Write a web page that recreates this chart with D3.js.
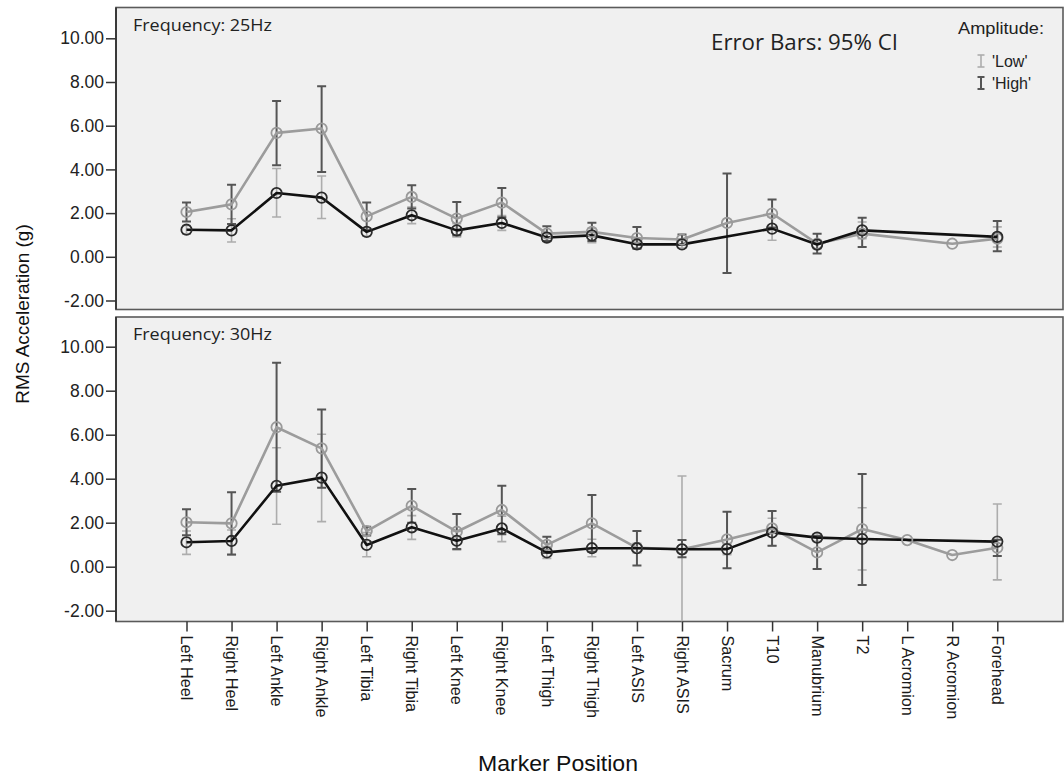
<!DOCTYPE html>
<html>
<head>
<meta charset="utf-8">
<script src="https://cdn.jsdelivr.net/npm/d3@7"></script>
<style>
  body { margin: 0; background: #fff; }
  svg { display: block; }
</style>
</head>
<body>
<svg id="chart" width="1064" height="780"></svg>
<script>
// Marker positions along the body
const categories = ["Left Heel", "Right Heel", "Left Ankle", "Right Ankle", "Left Tibia", "Right Tibia",
  "Left Knee", "Right Knee", "Left Thigh", "Right Thigh", "Left ASIS", "Right ASIS", "Sacrum", "T10",
  "Manubrium", "T2", "L Acromion", "R Acromion", "Forehead"];
const yTicks = [-2, 0, 2, 4, 6, 8, 10];
const frequencies = ["Frequency: 25Hz", "Frequency: 30Hz"];
const amplitudes = ["'Low'", "'High'"];

// 25 Hz, low amplitude: mean RMS acceleration and 95% CI
const low25Mean = [1.24, 1.21, 2.92, 2.71, 1.14, 1.90, 1.21, 1.55, 0.88, 0.98, 0.57, 0.57, null, 1.29, 0.56, 1.21, null, null, 0.91];
const low25Lo   = [1.05, 0.68, 1.82, 1.75, 0.95, 1.52, 0.91, 1.21, 0.70, 0.65, 0.40, 0.40, null, 0.76, 0.37, 0.83, null, null, 0.45];
const low25Hi   = [1.43, 1.74, 4.04, 3.70, 1.33, 2.28, 1.51, 1.89, 1.06, 1.31, 0.74, 0.74, null, 1.82, 0.75, 1.59, null, null, 1.37];
// 25 Hz, high amplitude
const high25Mean = [2.05, 2.40, 5.67, 5.87, 1.85, 2.74, 1.75, 2.48, 1.06, 1.14, 0.86, 0.79, 1.55, 1.98, 0.60, 1.06, null, 0.60, 0.83];
const high25Lo   = [1.62, 1.50, 4.19, 3.88, 1.22, 2.21, 0.99, 1.81, 0.72, 0.72, 0.37, 0.56, -0.74, 1.34, 0.15, 0.45, null, null, 0.25];
const high25Hi   = [2.48, 3.30, 7.13, 7.80, 2.48, 3.27, 2.51, 3.15, 1.40, 1.56, 1.36, 1.02, 3.81, 2.62, 1.06, 1.79, null, null, 1.64];

// 30 Hz, low amplitude
const low30Mean = [1.11, 1.17, 3.68, 4.05, 0.99, 1.79, 1.18, 1.74, 0.65, 0.84, 0.84, 0.79, 0.80, 1.56, 1.32, 1.26, null, null, 1.14];
const low30Lo   = [0.56, 0.53, 1.93, 2.05, 0.45, 1.24, 0.76, 1.14, 0.38, 0.45, 0.62, -2.55, 0.55, 0.95, 1.15, -0.15, null, null, -0.60];
const low30Hi   = [1.62, 1.67, 5.41, 6.02, 1.55, 2.32, 1.60, 2.30, 0.92, 1.25, 1.06, 4.12, 1.05, 2.20, 1.50, 2.68, null, null, 2.85];
// 30 Hz, high amplitude
const high30Mean = [2.02, 1.97, 6.34, 5.38, 1.62, 2.77, 1.59, 2.58, 0.99, 1.97, 0.86, 0.79, 1.24, 1.74, 0.65, 1.71, 1.21, 0.53, 0.86];
const high30Lo   = [1.43, 0.56, 3.41, 3.59, 1.42, 2.00, 0.80, 1.48, 0.62, 0.68, 0.05, 0.43, -0.07, 0.95, -0.10, -0.83, null, null, 0.49];
const high30Hi   = [2.61, 3.38, 9.27, 7.15, 1.82, 3.53, 2.39, 3.68, 1.36, 3.26, 1.62, 1.21, 2.50, 2.53, 1.40, 4.21, null, null, 1.23];

const svg = d3.select("#chart");
const font = "'Liberation Sans', Arial, sans-serif";
const panelLeft = 116, panelRight = 1063;

const x = d3.scalePoint().domain(categories).range([186.5, 997.3]);

const styles = {
  High: { line: "#9c9c9c", circle: "#9a9a9a", bar: "#555", barWidth: 2 },
  Low:  { line: "#111",    circle: "#2b2b2b", bar: "#adadad", barWidth: 1.6 }
};

function build(mean, lo, hi) {
  return categories.map((c, i) => ({ cat: c, mean: mean[i], lo: lo[i], hi: hi[i] }));
}

const panels = [
  { title: frequencies[0], top: 7.5, bottom: 309.5, yRange: [300.5, 38.3],
    series: [ { name: "High", data: build(high25Mean, high25Lo, high25Hi) },
              { name: "Low",  data: build(low25Mean, low25Lo, low25Hi) } ] },
  { title: frequencies[1], top: 317, bottom: 621.5, yRange: [610.7, 346.7],
    series: [ { name: "High", data: build(high30Mean, high30Lo, high30Hi) },
              { name: "Low",  data: build(low30Mean, low30Lo, low30Hi) } ] }
];

panels.forEach((p, pi) => {
  const y = d3.scaleLinear().domain([-2, 10]).range(p.yRange);
  const g = svg.append("g");

  // panel frame
  g.append("rect")
    .attr("x", panelLeft).attr("y", p.top)
    .attr("width", panelRight - panelLeft).attr("height", p.bottom - p.top)
    .attr("fill", "#f0f0f0").attr("stroke", "#5a5a5a").attr("stroke-width", 1.6);

  const clipId = "clip" + pi;
  svg.append("clipPath").attr("id", clipId).append("rect")
    .attr("x", panelLeft).attr("y", p.top)
    .attr("width", panelRight - panelLeft).attr("height", p.bottom - p.top);

  // left axis
  const yAxis = d3.axisLeft(y).tickValues(yTicks).tickFormat(d => d.toFixed(2)).tickSize(10).tickSizeOuter(0);
  const ax = g.append("g").attr("transform", `translate(${panelLeft},0)`).call(yAxis);
  ax.select(".domain").remove();
  ax.selectAll(".tick line").attr("stroke", "#333").attr("stroke-width", 1.5);
  ax.selectAll(".tick text").attr("font-family", font).attr("font-size", 17.5)
    .attr("fill", "#222").attr("x", -12);
  g.append("line").attr("x1", panelLeft).attr("x2", panelLeft)
    .attr("y1", p.top).attr("y2", p.bottom).attr("stroke", "#333").attr("stroke-width", 1.8);

  // panel title
  g.append("text").attr("x", 133).attr("y", p.top + 23)
    .attr("font-family", "'Open Sans', 'Noto Sans', sans-serif").attr("font-size", 16)
    .attr("textLength", 139).attr("lengthAdjust", "spacingAndGlyphs")
    .attr("fill", "#222").text(p.title);

  const plot = g.append("g").attr("clip-path", `url(#${clipId})`);
  const line = d3.line().defined(d => d.mean != null).x(d => x(d.cat)).y(d => y(d.mean));

  // error bars
  p.series.slice().reverse().forEach(s => {
    const st = styles[s.name];
    const bars = plot.append("g").selectAll("g")
      .data(s.data.filter(d => d.lo != null && d.hi != null)).join("g")
      .attr("stroke", st.bar).attr("stroke-width", st.barWidth).attr("fill", "none");
    bars.append("line").attr("x1", d => x(d.cat)).attr("x2", d => x(d.cat))
      .attr("y1", d => y(d.lo)).attr("y2", d => y(d.hi));
    bars.append("line").attr("x1", d => x(d.cat) - 4.5).attr("x2", d => x(d.cat) + 4.5)
      .attr("y1", d => y(d.hi)).attr("y2", d => y(d.hi));
    bars.append("line").attr("x1", d => x(d.cat) - 4.5).attr("x2", d => x(d.cat) + 4.5)
      .attr("y1", d => y(d.lo)).attr("y2", d => y(d.lo));
  });

  // mean lines (missing markers are bridged) and hollow markers
  p.series.forEach(s => {
    const st = styles[s.name];
    const pts = s.data.filter(d => d.mean != null);
    plot.append("path").datum(pts).attr("d", line)
      .attr("fill", "none").attr("stroke", st.line).attr("stroke-width", 2.6)
      .attr("stroke-linejoin", "round");
  });
  p.series.forEach(s => {
    const st = styles[s.name];
    plot.append("g").selectAll("circle")
      .data(s.data.filter(d => d.mean != null)).join("circle")
      .attr("cx", d => x(d.cat)).attr("cy", d => y(d.mean)).attr("r", 5.2)
      .attr("fill", "none").attr("stroke", st.circle).attr("stroke-width", 1.8);
  });

  // bottom axis on the lower panel only
  if (pi === panels.length - 1) {
    const xAxis = d3.axisBottom(x).tickSize(10).tickSizeOuter(0);
    const bx = g.append("g").attr("transform", `translate(0,${p.bottom})`).call(xAxis);
    bx.select(".domain").remove();
    bx.selectAll(".tick line").attr("stroke", "#333").attr("stroke-width", 1.5);
    bx.selectAll(".tick text")
      .attr("font-family", font).attr("font-size", 16.2).attr("fill", "#1a1a1a")
      .attr("transform", "rotate(90)")
      .attr("x", 14).attr("y", 0).attr("dy", "0.36em")
      .attr("text-anchor", "start");
  }
});

// annotation
svg.append("text").attr("x", 711).attr("y", 50)
  .attr("font-family", "'Open Sans', 'Noto Sans', sans-serif").attr("font-size", 22)
  .attr("textLength", 187).attr("lengthAdjust", "spacingAndGlyphs")
  .attr("fill", "#222").text("Error Bars: 95% CI");

// legend
const legend = svg.append("g");
legend.append("text").attr("x", 958).attr("y", 34)
  .attr("font-family", font).attr("font-size", 16.5)
  .attr("textLength", 86).attr("lengthAdjust", "spacingAndGlyphs")
  .attr("fill", "#222").text("Amplitude:");
const legendRows = [
  { label: amplitudes[0], style: styles.Low, y: 61 },
  { label: amplitudes[1], style: styles.High, y: 83 }
];
legendRows.forEach(r => {
  const li = legend.append("g").attr("stroke", r.style.bar).attr("stroke-width", r.style.barWidth);
  li.append("line").attr("x1", 981).attr("x2", 981).attr("y1", r.y - 6).attr("y2", r.y + 6);
  li.append("line").attr("x1", 977.5).attr("x2", 984.5).attr("y1", r.y - 6).attr("y2", r.y - 6);
  li.append("line").attr("x1", 977.5).attr("x2", 984.5).attr("y1", r.y + 6).attr("y2", r.y + 6);
  legend.append("text").attr("x", 992).attr("y", r.y + 6)
    .attr("font-family", font).attr("font-size", 16).attr("fill", "#222").text(r.label);
});

// axis titles
svg.append("text")
  .attr("transform", "translate(29,314) rotate(-90)")
  .attr("text-anchor", "middle")
  .attr("font-family", font).attr("font-size", 19).attr("fill", "#111")
  .text("RMS Acceleration (g)");

svg.append("text").attr("x", 558).attr("y", 771)
  .attr("text-anchor", "middle")
  .attr("font-family", "'Liberation Sans Narrow', " + font).attr("font-size", 22)
  .attr("textLength", 160).attr("lengthAdjust", "spacingAndGlyphs")
  .attr("fill", "#111").text("Marker Position");
</script>
</body>
</html>
